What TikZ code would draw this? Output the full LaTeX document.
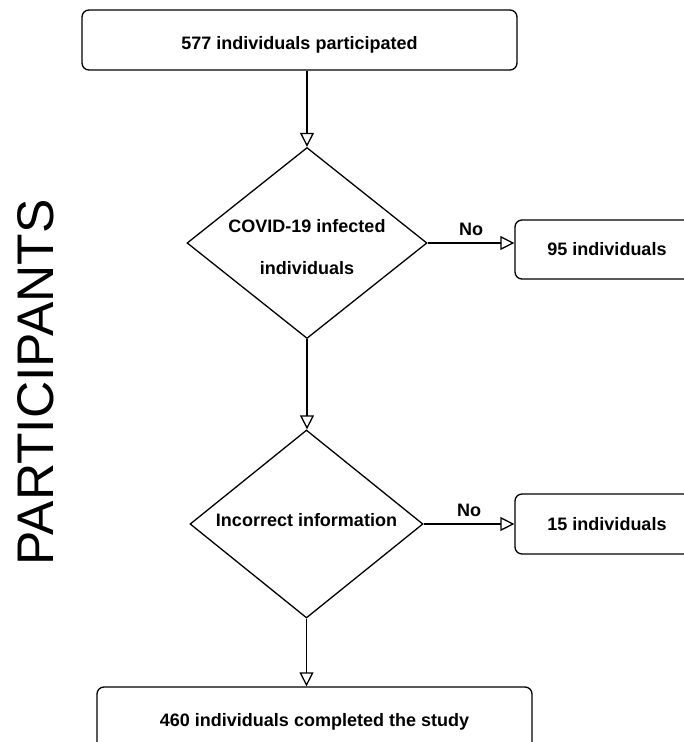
\documentclass[tikz,border=0pt]{standalone}
\usepackage{fontspec}
\setmainfont{Liberation Sans}
\usetikzlibrary{shapes.geometric,arrows.meta}
\newcommand{\lowtext}[2]{\raisebox{-#1}[\height][\depth]{#2}}
\begin{document}
\begin{tikzpicture}[x=1pt,y=-1pt,
  box/.style={draw,line width=1.3pt,rounded corners=7pt,font=\bfseries\fontsize{18}{21}\selectfont,inner sep=0pt},
  dec/.style={draw,line width=1.3pt,diamond,inner sep=0pt},
  arr/.style={line width=1.3pt,-{Triangle[open,length=14pt,width=14pt]}},
  lab/.style={font=\bfseries\fontsize{18}{21}\selectfont,inner sep=0pt}]
\clip (0,0) rectangle (684,742);
\fill[white] (0,0) rectangle (684,742);
\node[box,minimum width=435pt,minimum height=60pt] (top) at (299.5,40) {\lowtext{5pt}{577 individuals participated}};
\node[dec,minimum width=240pt,minimum height=191pt,aspect=1.25] (d1) at (307,243) {};
\node[lab] (d1a) at (307,226) {COVID-19 infected};
\node[lab] (d1b) at (307,268) {individuals};
\node[box,minimum width=184pt,minimum height=59pt] (r1) at (607,249.5) {95 individuals};
\node[dec,minimum width=233pt,minimum height=188pt,aspect=1.24] (d2) at (306.5,524) {};
\node[lab] (d2a) at (306.5,520) {Incorrect information};
\node[box,minimum width=184pt,minimum height=60pt] (r2) at (607,524) {15 individuals};
\node[box,minimum width=435pt,minimum height=64pt] (bot) at (314.5,719) {\lowtext{3pt}{460 individuals completed the study}};
\node[rotate=90,font=\fontsize{51.5}{56}\selectfont,inner sep=0pt] (side) at (36,382.5) {PARTICIPANTS};
\draw[arr] (top.south -| d1.north) -- (d1.north);
\draw[arr] (d1.east) -- (r1.west |- d1.east) node[lab,pos=0.5,above=7pt] (no1) {No};
\draw[arr] (d1.south) -- (d2.north -| d1.south);
\draw[arr] (d2.east) -- (r2.west |- d2.east) node[lab,pos=0.5,above=7pt] (no2) {No};
\draw[arr] (d2.south) -- (bot.north -| d2.south);
\end{tikzpicture}
\end{document}
